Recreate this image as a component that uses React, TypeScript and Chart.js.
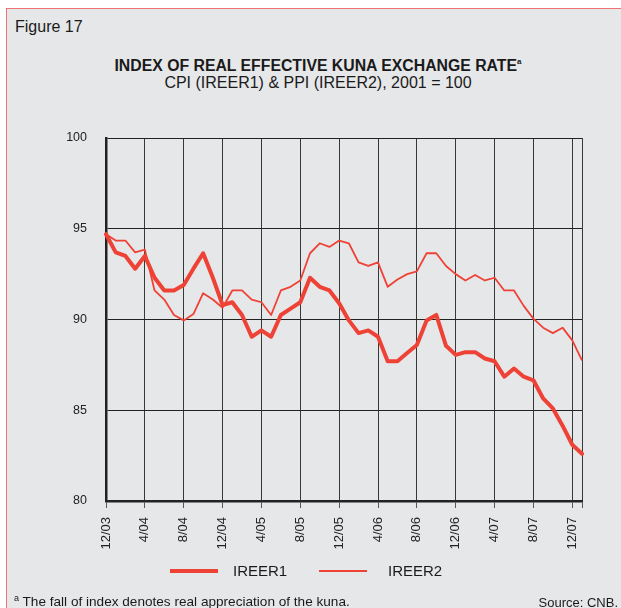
import React, { useEffect, useRef } from "react";
import { Chart, registerables } from "chart.js";

Chart.register(...registerables);

const months = [
  "12/03", "1/04", "2/04", "3/04", "4/04", "5/04", "6/04", "7/04", "8/04", "9/04", "10/04", "11/04",
  "12/04", "1/05", "2/05", "3/05", "4/05", "5/05", "6/05", "7/05", "8/05", "9/05", "10/05", "11/05",
  "12/05", "1/06", "2/06", "3/06", "4/06", "5/06", "6/06", "7/06", "8/06", "9/06", "10/06", "11/06",
  "12/06", "1/07", "2/07", "3/07", "4/07", "5/07", "6/07", "7/07", "8/07", "9/07", "10/07", "11/07",
  "12/07", "1/08",
];

const ireer1 = [
  94.7, 93.7, 93.5, 92.8, 93.5, 92.3, 91.6, 91.6, 91.9, 92.8, 93.65, 92.3,
  90.8, 90.95, 90.25, 89.05, 89.4, 89.05, 90.25, 90.6, 90.95, 92.3, 91.8, 91.6,
  90.9, 89.95, 89.25, 89.4, 89.05, 87.7, 87.7, 88.15, 88.6, 89.95, 90.25, 88.55,
  88.05, 88.2, 88.2, 87.85, 87.7, 86.85, 87.3, 86.85, 86.65, 85.65, 85.1, 84.15,
  83.1, 82.6,
];

const ireer2 = [
  94.7, 94.35, 94.35, 93.7, 93.85, 91.6, 91.1, 90.25, 89.95, 90.3, 91.45, 91.1,
  90.65, 91.6, 91.6, 91.1, 90.95, 90.25, 91.6, 91.8, 92.15, 93.65, 94.2, 94.0,
  94.35, 94.2, 93.15, 92.95, 93.15, 91.8, 92.2, 92.5, 92.65, 93.65, 93.65, 92.95,
  92.5, 92.15, 92.45, 92.15, 92.3, 91.6, 91.6, 90.75, 90.05, 89.55, 89.25, 89.55,
  88.85, 87.75,
];

const yMin = 80;
const yMax = 100;
const yStep = 5;
const labelEvery = 4;

const RED = "rgb(239, 66, 54)";
const FONT = "'Liberation Sans', Arial, Helvetica, sans-serif";

export default function App() {
  const ref = useRef<HTMLCanvasElement | null>(null);

  useEffect(() => {
    if (!ref.current) return;
    const last = months.length - 1;
    const chart = new Chart(ref.current, {
      type: "line",
      data: {
        labels: months,
        datasets: [
          {
            label: "IREER1",
            data: ireer1,
            borderColor: RED,
            borderWidth: 4,
            pointRadius: 0,
            tension: 0,
            borderJoinStyle: "round",
            borderCapStyle: "round",
          },
          {
            label: "IREER2",
            data: ireer2,
            borderColor: RED,
            borderWidth: 1.8,
            pointRadius: 0,
            tension: 0,
            borderJoinStyle: "round",
          },
        ],
      },
      options: {
        animation: false,
        responsive: false,
        devicePixelRatio: 1,
        layout: { padding: { left: 0, right: 39, top: 138, bottom: 0 } },
        plugins: { legend: { display: false }, tooltip: { enabled: false } },
        scales: {
          x: {
            type: "category",
            offset: false,
            afterFit: (s: any) => {
              s.height = 107;
            },
            border: { display: true, color: "#222", width: 2.5 },
            grid: {
              display: true,
              drawOnChartArea: true,
              drawTicks: true,
              tickLength: 7,
              color: (ctx: any) => (ctx.index === last ? "#7a7a7a" : "#383838"),
              lineWidth: (ctx: any) => (ctx.index === last ? 2 : 1),
              tickColor: (ctx: any) => (ctx.index === last ? "rgba(0,0,0,0)" : "#555"),
            },
            ticks: {
              autoSkip: false,
              maxRotation: 90,
              minRotation: 90,
              padding: 9,
              color: "#222",
              font: { family: FONT, size: 13 },
              callback: (_v: any, i: number) => {
                if (i % labelEvery === 0) return months[i];
                if (i === last) return "";
                return null;
              },
            },
          },
          y: {
            min: yMin,
            max: yMax,
            afterFit: (s: any) => {
              s.width = 106;
            },
            border: { display: true, color: "#222", width: 2.5 },
            grid: {
              color: "#222",
              lineWidth: 1,
              drawTicks: false,
              tickLength: 0,
            },
            ticks: {
              stepSize: yStep,
              padding: 19,
              color: "#222",
              font: { family: FONT, size: 12.5 },
            },
          },
        },
      },
    });
    return () => chart.destroy();
  }, []);

  const txt: React.CSSProperties = {
    position: "absolute",
    fontFamily: FONT,
    color: "#1a1a1a",
    whiteSpace: "nowrap",
    lineHeight: 1,
  };

  return (
    <div style={{ position: "fixed", left: 0, top: 0, width: 621, height: 608, background: "#fff", overflow: "hidden" }}>
      <div
        style={{
          position: "absolute",
          left: 6,
          top: 8,
          width: 660,
          height: 640,
          background: "#e6e7e9",
          borderTop: "1.5px solid #f07272",
          borderLeft: "1.5px solid #f07272",
        }}
      />
      <div style={{ ...txt, left: 15, top: 19, fontSize: 16 }}>Figure 17</div>
      <div style={{ ...txt, left: 0, width: 636, top: 58, fontSize: 15.8, fontWeight: "bold", textAlign: "center" }}>
        INDEX OF REAL EFFECTIVE KUNA EXCHANGE RATE<sup style={{ fontSize: 8, verticalAlign: 7 }}>a</sup>
      </div>
      <div style={{ ...txt, left: 0, width: 636, top: 75, fontSize: 16, textAlign: "center" }}>
        CPI (IREER1) &amp; PPI (IREER2), 2001 = 100
      </div>
      <canvas ref={ref} width={621} height={608} style={{ position: "absolute", left: 0, top: 0, width: 621, height: 608 }} />
      <div style={{ position: "absolute", left: 170, top: 569, width: 48, height: 4, background: RED }} />
      <div style={{ ...txt, left: 233, top: 563, fontSize: 15 }}>IREER1</div>
      <div style={{ position: "absolute", left: 319, top: 570, width: 48, height: 2, background: RED }} />
      <div style={{ ...txt, left: 388, top: 563, fontSize: 15 }}>IREER2</div>
      <div style={{ ...txt, left: 14, top: 594, fontSize: 13.6 }}>
        <sup style={{ fontSize: 9, verticalAlign: 5 }}>a</sup> The fall of index denotes real appreciation of the kuna.
      </div>
      <div style={{ ...txt, right: 3, top: 596, fontSize: 13 }}>Source: CNB.</div>
    </div>
  );
}
